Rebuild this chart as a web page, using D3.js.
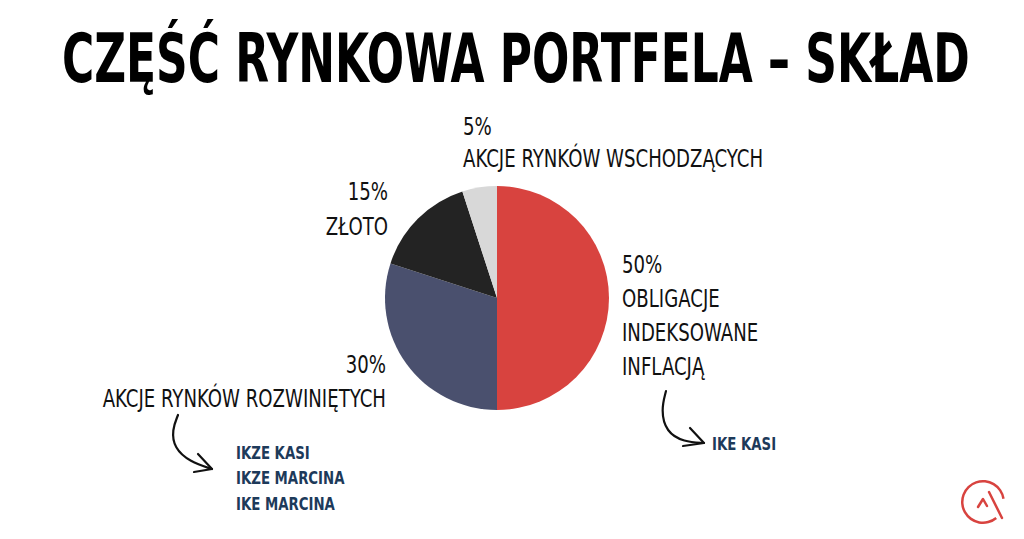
<!DOCTYPE html>
<html>
<head>
<meta charset="utf-8">
<script src="https://cdn.jsdelivr.net/npm/d3@7"></script>
<style>
  body { margin: 0; background: #fff; }
  svg { display: block; }
</style>
</head>
<body>
<svg id="chart" width="1024" height="539"></svg>
<script>
// data
var categories = ["OBLIGACJE INDEKSOWANE INFLACJĄ", "AKCJE RYNKÓW ROZWINIĘTYCH", "ZŁOTO", "AKCJE RYNKÓW WSCHODZĄCYCH"];
var shares = [50, 30, 15, 5];
var sliceColors = ["#d8433f", "#4a506e", "#232323", "#d8d8d8"];
var labelLines = [
    ["50%", "OBLIGACJE", "INDEKSOWANE", "INFLACJĄ"],
    ["30%", "AKCJE RYNKÓW ROZWINIĘTYCH"],
    ["15%", "ZŁOTO"],
    ["5%", "AKCJE RYNKÓW WSCHODZĄCYCH"]
];
var accountsLeft = ["IKZE KASI", "IKZE MARCINA", "IKE MARCINA"];
var accountsRight = ["IKE KASI"];
var title = "CZĘŚĆ RYNKOWA PORTFELA – SKŁAD";

var svg = d3.select("#chart");
var cx = 497, cy = 298, radius = 112;
var labelFont = "'DejaVu Sans Condensed', 'Liberation Sans Narrow', sans-serif";

// narrow text block: drawn at origin then squeezed sideways
function block(x, y, sx, anchor) {
    return svg.append("g")
        .attr("transform", "translate(" + x + "," + y + ") scale(" + sx + ",1)")
        .append("text")
        .attr("text-anchor", anchor);
}

// title, squeezed to span 62..970
var titleText = block(62, 82, 1, "start")
    .style("font-family", labelFont)
    .style("font-weight", "bold")
    .style("font-size", "67px")
    .style("fill", "#000")
    .text(title);
var natural = titleText.node().getComputedTextLength();
d3.select(titleText.node().parentNode)
    .attr("transform", "translate(62,82) scale(" + (908 / natural) + ",1)");

// pie
var pie = d3.pie().sort(null).value(function (d) { return d; });
var arc = d3.arc().innerRadius(0).outerRadius(radius);

var g = svg.append("g").attr("transform", "translate(" + cx + "," + cy + ")");
g.selectAll("path")
    .data(pie(shares))
    .enter()
    .append("path")
    .attr("d", arc)
    .attr("fill", function (d, i) { return sliceColors[i]; });

// label layout (x, first baseline, anchor, line height)
var labelPos = [
    { x: 622, y: 273, anchor: "start", lh: 34 },
    { x: 386, y: 373, anchor: "end", lh: 34 },
    { x: 388, y: 200, anchor: "end", lh: 35 },
    { x: 463, y: 135, anchor: "start", lh: 32 }
];

labelLines.forEach(function (lines, i) {
    var p = labelPos[i];
    var t = block(p.x, p.y, 0.84, p.anchor)
        .style("font-family", labelFont)
        .style("font-size", "24px")
        .style("fill", "#111");
    lines.forEach(function (line, j) {
        t.append("tspan").attr("x", 0).attr("y", j * p.lh).text(line);
    });
});

// account notes
function accounts(list, x, y) {
    var t = block(x, y, 0.87, "start")
        .style("font-family", labelFont)
        .style("font-weight", "bold")
        .style("font-size", "17px")
        .style("fill", "#1d3a5a");
    list.forEach(function (line, j) {
        t.append("tspan").attr("x", 0).attr("y", j * 25.5).text(line);
    });
}
accounts(accountsLeft, 236, 459);
accounts(accountsRight, 712, 450);

// hand drawn arrows
function arrow(points, barbs) {
    svg.append("path")
        .attr("d", d3.line().curve(d3.curveBasis)(points))
        .attr("fill", "none")
        .attr("stroke", "#111")
        .attr("stroke-width", 2.2)
        .attr("stroke-linecap", "round");
    svg.append("path")
        .attr("d", d3.line()(barbs))
        .attr("fill", "none")
        .attr("stroke", "#111")
        .attr("stroke-width", 2.2)
        .attr("stroke-linecap", "round")
        .attr("stroke-linejoin", "round");
}
arrow([[178, 415], [172, 430], [174, 448], [190, 462], [212, 469]],
      [[198, 454], [212, 469], [194, 472]]);
arrow([[666, 391], [661, 410], [666, 432], [684, 442], [704, 443]],
      [[690, 428], [704, 443], [683, 446]]);

// logo
var logo = svg.append("g").attr("transform", "translate(983,502)");
logo.append("path")
    .attr("d", d3.arc().innerRadius(19.5).outerRadius(22).startAngle(Math.PI * 0.78).endAngle(Math.PI * 2.45)())
    .attr("fill", "#d8433f");
logo.append("path")
    .attr("d", "M-5,5 L0,-3 L4,4")
    .attr("fill", "none").attr("stroke", "#d8433f").attr("stroke-width", 2.5)
    .attr("stroke-linecap", "round").attr("stroke-linejoin", "round");
logo.append("path")
    .attr("d", "M6,-10 L19,16")
    .attr("fill", "none").attr("stroke", "#d8433f").attr("stroke-width", 2.5)
    .attr("stroke-linecap", "round");
</script>
</body>
</html>
